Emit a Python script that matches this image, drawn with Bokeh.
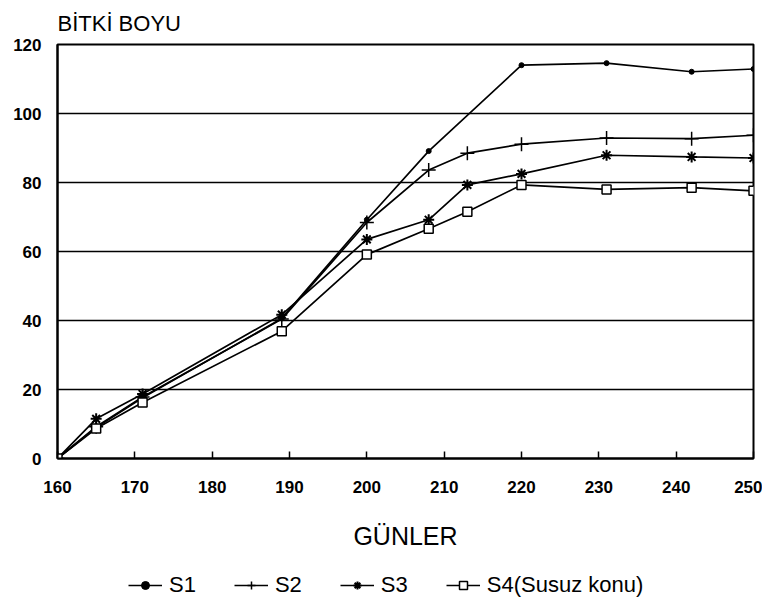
from bokeh.plotting import figure
from bokeh.layouts import column
from bokeh.models import Range1d, FixedTicker, Legend, LegendItem
from bokeh.embed import file_html
from bokeh.resources import INLINE

FONT = "Liberation Sans"

days_s1 = [160, 165, 171, 189, 200, 208, 220, 231, 242, 250]
s1 = [0, 9.0, 17.6, 40.6, 69.2, 89.1, 114.0, 114.6, 112.1, 112.9]

days = [160, 165, 171, 189, 200, 208, 213, 220, 231, 242, 250]
s2 = [0, 9.2, 17.8, 40.4, 68.4, 83.6, 88.5, 91.1, 92.9, 92.7, 93.7]
s3 = [0, 11.5, 18.7, 41.7, 63.5, 69.2, 79.3, 82.5, 87.9, 87.4, 87.1]
s4 = [0, 8.7, 16.2, 36.9, 59.1, 66.6, 71.5, 79.3, 78.0, 78.5, 77.6]

x_ticks = [160, 170, 180, 190, 200, 210, 220, 230, 240, 250]
y_ticks = [0, 20, 40, 60, 80, 100, 120]
series_names = ["S1", "S2", "S3", "S4(Susuz konu)"]
title_text = "BİTKİ BOYU"
x_label = "GÜNLER"

p = figure(width=762, height=558, output_backend="svg", toolbar_location=None,
           x_range=Range1d(160, 250), y_range=Range1d(0, 120),
           min_border_left=57, min_border_right=9, min_border_top=42, min_border_bottom=100)
p.background_fill_color = "white"
p.border_fill_color = "white"
p.outline_line_color = "black"
p.outline_line_width = 2

p.title.text = title_text
p.title.align = "left"
p.title.text_font = FONT
p.title.text_font_size = "22px"
p.title.text_font_style = "normal"
p.title.text_color = "black"
p.title.standoff = 17

p.xgrid.grid_line_color = None
p.ygrid.grid_line_color = "black"
p.ygrid.grid_line_width = 1.5
p.ygrid.ticker = FixedTicker(ticks=y_ticks)

xa = p.xaxis[0]
xa.ticker = FixedTicker(ticks=x_ticks)
xa.axis_line_width = 2
xa.major_tick_in = 7
xa.major_tick_out = 0
xa.major_tick_line_width = 1.5
xa.minor_tick_line_color = None
xa.major_label_standoff = 22
xa.major_label_text_font = FONT
xa.major_label_text_font_style = "bold"
xa.major_label_text_font_size = "17px"
xa.major_label_text_color = "black"
xa.axis_label = x_label
xa.axis_label_text_font = FONT
xa.axis_label_text_font_style = "normal"
xa.axis_label_text_font_size = "25px"
xa.axis_label_standoff = 26
xa.axis_label_text_color = "black"

ya = p.yaxis[0]
ya.ticker = FixedTicker(ticks=y_ticks)
ya.axis_line_width = 2
ya.major_tick_in = 0
ya.major_tick_out = 0
ya.minor_tick_line_color = None
ya.major_label_standoff = 16
ya.major_label_text_font = FONT
ya.major_label_text_font_style = "bold"
ya.major_label_text_font_size = "17px"
ya.major_label_text_color = "black"

p.line(days_s1, s1, line_color="black", line_width=1.7)
p.scatter(days_s1, s1, marker="circle", size=5, fill_color="black", line_color="black")
p.line(days, s2, line_color="black", line_width=1.7)
p.scatter(days, s2, marker="cross", size=14, line_color="black", line_width=1.5)
p.line(days, s3, line_color="black", line_width=1.7)
p.scatter(days, s3, marker="asterisk", size=11, line_color="black", line_width=2)
p.line(days, s4, line_color="black", line_width=1.7)
p.scatter(days, s4, marker="square", size=9, fill_color="white", line_color="black", line_width=1.5)

# legend strip below the chart
lf = figure(width=762, height=48, output_backend="svg", toolbar_location=None,
            x_range=Range1d(0, 1), y_range=Range1d(0, 1),
            x_axis_type=None, y_axis_type=None,
            min_border_left=0, min_border_right=0, min_border_top=0, min_border_bottom=0)
lf.outline_line_color = None
lf.xgrid.grid_line_color = None
lf.ygrid.grid_line_color = None
lf.background_fill_color = "white"
lf.border_fill_color = "white"

far = [-10]
r1a = lf.line(far, far, line_color="black", line_width=1.7)
r1b = lf.scatter(far, far, marker="circle", size=4, fill_color="black", line_color="black")
r2a = lf.line(far, far, line_color="black", line_width=1.7)
r2b = lf.scatter(far, far, marker="cross", size=14, line_color="black", line_width=1.5)
r3a = lf.line(far, far, line_color="black", line_width=1.7)
r3b = lf.scatter(far, far, marker="asterisk", size=11, line_color="black", line_width=2)
r4a = lf.line(far, far, line_color="black", line_width=1.7)
r4b = lf.scatter(far, far, marker="square", size=9, fill_color="white", line_color="black", line_width=1.5)

legend = Legend(items=[LegendItem(label=series_names[0], renderers=[r1a, r1b]),
                       LegendItem(label=series_names[1], renderers=[r2a, r2b]),
                       LegendItem(label=series_names[2], renderers=[r3a, r3b]),
                       LegendItem(label=series_names[3], renderers=[r4a, r4b])],
                orientation="horizontal", location=(71, 8),
                border_line_color=None, background_fill_alpha=0,
                padding=0, margin=0, spacing=38, glyph_width=34, label_standoff=7,
                label_text_font=FONT, label_text_font_size="22px", label_text_color="black")
lf.add_layout(legend, "center")

layout = column(p, lf, spacing=0)
open("out.html", "w").write(file_html(layout, INLINE))
